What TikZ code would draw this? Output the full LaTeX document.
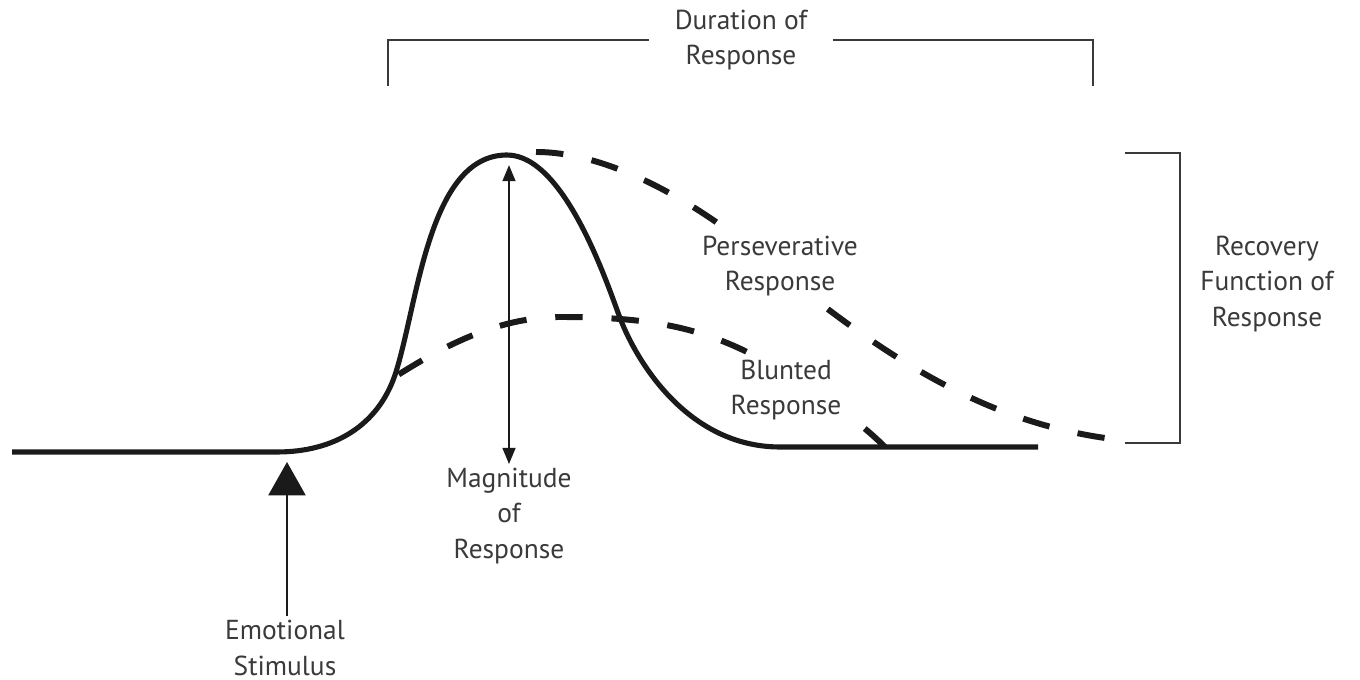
\documentclass[tikz,border=0pt]{standalone}
\usepackage{fontspec}
\setmainfont{PT Sans}
\usetikzlibrary{arrows.meta}
\definecolor{sumi}{HTML}{1A1A1A}
\definecolor{nezumi}{HTML}{3A3A3A}

\tikzset{
    lbl/.style={text=nezumi, align=center, font=\fontsize{7.8}{10}\selectfont, inner sep=1pt},
    cover/.style={lbl, fill=white},
    curve/.style={sumi, line width=1.45pt},
    dashcurve/.style={sumi, line width=1.7pt, dash pattern=on 7.8pt off 8.2pt},
    brace/.style={nezumi, line width=0.8pt}
}

\begin{document}
\begin{tikzpicture}[x=0.01cm, y=-0.01cm]
    \useasboundingbox (0, 0) rectangle (1360, 680);

    \draw[curve] (12, 452) -- (277, 452) .. controls (335, 452) and (378, 425) .. (395, 375)
        .. controls (418, 305) and (428, 155) .. (507, 155)
        .. controls (565, 155) and (608, 286) .. (620, 318)
        .. controls (638, 365) and (690, 447) .. (780, 447) -- (1038, 447);

    \draw[dashcurve] (885, 447) .. controls (855, 417) and (800, 378) .. (743, 350)
        .. controls (690, 325) and (640, 317) .. (560, 317)
        .. controls (490, 317) and (430, 355) .. (393, 378);
    \draw[dashcurve] (536, 152) .. controls (600, 152) and (680, 190) .. (760, 255)
        .. controls (880, 355) and (980, 420) .. (1105, 438);

    \node[cover] (pers) at (780, 266) {Perseverative\\Response};
    \node[cover] (blunt) at (786, 390) {Blunted\\Response};

    \coordinate (durL) at (388, 86);
    \coordinate (durR) at (1093, 86);
    \node[cover, inner xsep=7pt] (dur) at (741, 40) {Duration of\\Response};
    \draw[brace] (durL) |- (dur.west);
    \draw[brace] (dur.east) -| (durR);

    \coordinate (recA) at (1125, 153);
    \coordinate (recK) at (1180, 300);
    \coordinate (recB) at (1125, 443);
    \draw[brace] (recA) -| (recK) |- (recB);
    \node[lbl] (rec) at (1267, 284) {Recovery\\Function of\\Response};

    \node[lbl] (mag) at (509, 516) {Magnitude\\of\\Response};
    \coordinate (magtop) at (509, 165);
    \draw[sumi, line width=0.7pt, {Triangle[width=3.6pt,length=4.6pt]}-{Triangle[width=3.6pt,length=4.6pt]}] (mag.north) -- (magtop);

    \node[lbl] (stim) at (285, 648) {Emotional\\Stimulus};
    \coordinate (stimtip) at (287, 462);
    \draw[sumi, line width=0.8pt, -{Triangle[width=10.5pt,length=9.5pt]}] (stim.north -| stimtip) -- (stimtip);
\end{tikzpicture}
\end{document}
